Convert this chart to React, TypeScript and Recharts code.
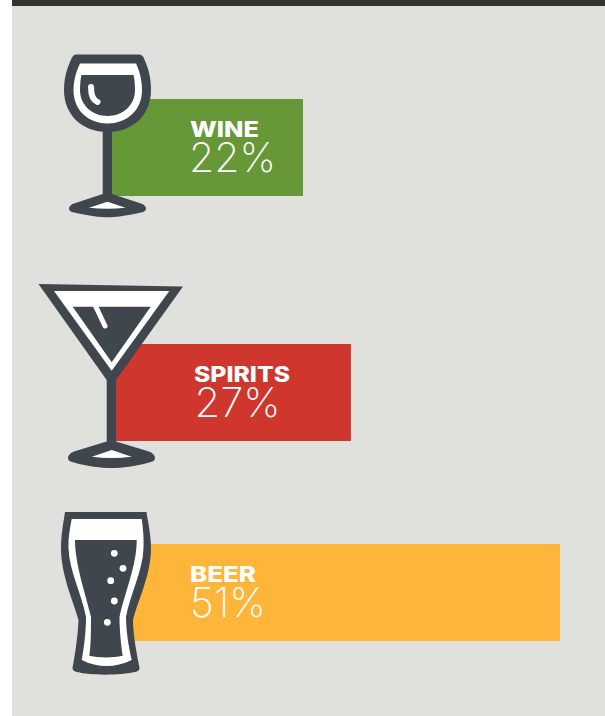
import React from "react";
import { BarChart, Bar, XAxis, YAxis } from "recharts";

const categories = ["WINE", "SPIRITS", "BEER"];
const shares = [22, 27, 51];
const colors = ["#679838", "#cf372e", "#fdb53a"];

const INK = "#40464e";
const CHART_H = 237;
const BAR_H = 97;
const PLOT_W = 484.5;
const BAR_TOPS = [99, 344, 544];
const BAR_ORIGINS = [109.2, 113.1, 110.7];
const NAME_X = [190, 194, 190];
const VALUE_X = [189, 194.5, 190];
const NAME_W = [69, 96, 66];
const VALUE_W = [87, 86, 76];

const WineIcon = () => (
  <g>
    <path fill={INK} d="M102.7,125 L112,125 L112,194 L141,203.5 Q146,205.5 146,208.5 Q146,211.5 141,212.5 C125,216 115,217.3 107.5,217.3 C100,217.3 90,216 74,212.5 Q69,211.5 69,208.5 Q69,205.5 74,203.5 L102.7,194 Z" />
    <path fill={INK} d="M76,54.5 L139,54.5 Q142,54.5 143.5,57.5 C147.5,66 151,76 151,90 C151,115 133,132 107.5,132 C82,132 64,115 64,90 C64,76 68,66 72,57.5 Q73.5,54.5 76,54.5 Z" />
    <path fill="#fff" d="M80,63.5 L136,63.5 C139,70 142,79 142,90 C142,110 127,123.5 107.5,123.5 C88,123.5 73.5,110 73.5,90 C73.5,79 77,70 80,63.5 Z" />
    <path fill={INK} d="M81.5,75 L133.5,75 C134.5,79 135,85 135,90 C135,105 123,116 107.5,116 C92,116 80,105 80,90 C80,85 80.5,79 81.5,75 Z" />
    <path fill="none" stroke="#fff" strokeWidth={6} strokeLinecap="round" d="M91,87 C91,95 92.5,100 97.5,102" />
    <path fill="#fff" d="M89,207.7 L107.5,201.7 L125.5,207.7 Q107.5,210 89,207.7 Z" />
  </g>
);

const SpiritsIcon = () => (
  <g>
    <path fill={INK} d="M38.5,284 L183,286.5 L116,380 L116,441.5 L149,451.5 Q155,454 155,458 Q155,461.5 149,462.5 C135,466.5 122,468 111.5,468 C101,468 88,466.5 74,462.5 Q68,461.5 68,458 Q68,454 74,451.5 L106.7,441.5 L106.7,380 Z" />
    <path fill="#fff" d="M54,291 L169.3,291 L111.7,370.7 Z" />
    <path fill={INK} d="M72.7,306.7 L150.7,306.7 L111.7,362.3 Z" />
    <path fill="none" stroke="#fff" strokeWidth={5} strokeLinecap="round" d="M95,305 L105,326" />
    <path fill="#fff" d="M91.7,456.7 L111.7,450 L131.7,456.7 Q111.7,459.5 91.7,456.7 Z" />
  </g>
);

const BeerIcon = () => (
  <g>
    <path fill={INK} d="M65,512 L146.5,512 C148,522 151,535 151,548 C151,575 138,600 133,620 C133,635 137,655 139.5,668 Q139.5,671 135,672 C120,675.5 90,675.5 77,672 Q72.5,671 72.5,668 C75,655 78,635 78.5,620 C73,600 61,575 61,548 C61,535 63.5,522 65,512 Z" />
    <path fill="#fff" d="M71.7,519 L141.7,519 C143,528 144,538 143.5,548 C143,570 130,595 126,617 C126,632 129,648 131.7,660 C115,668 98,668 81.7,660 C84,648 86,632 86,617 C82,595 69,570 68.5,548 C68,538 70,528 71.7,519 Z" />
    <path fill={INK} d="M75,540 L136.7,540 C137,565 124,595 119.5,617 C119.5,630 121,645 122.7,655.7 C112,658 100,658 89.3,655.7 C91,645 91,630 91,617 C86,595 75,565 75,540 Z" />
    <circle cx={114.3} cy={553.3} r={3.4} fill="#fff" />
    <circle cx={123} cy={568.3} r={3.4} fill="#fff" />
    <circle cx={110.7} cy={580.7} r={3.4} fill="#fff" />
    <circle cx={114.3} cy={601} r={3.4} fill="#fff" />
    <circle cx={107.3} cy={622.3} r={3.4} fill="#fff" />
  </g>
);

const ICONS = [WineIcon, SpiritsIcon, BeerIcon];

function Row({ index }: { index: number }) {
  const data = [{ name: categories[index], share: shares[index] }];
  const Icon = ICONS[index];
  const pageTop = BAR_TOPS[index] - (CHART_H - BAR_H) / 2;
  const renderBar = (p: any) => {
    const dy = p.y - BAR_TOPS[index];
    return (
      <g>
        <rect x={p.x} y={p.y} width={p.width} height={p.height} fill={colors[index]} />
        <g transform={`translate(0, ${dy})`}>
          <Icon />
          <text
            x={NAME_X[index]}
            y={BAR_TOPS[index] + 38}
            fill="#fff"
            fontFamily="Inter, 'Open Sans', sans-serif"
            fontWeight={800}
            fontSize={21.5}
            textLength={NAME_W[index]}
            lengthAdjust="spacingAndGlyphs"
          >
            {categories[index]}
          </text>
          <text
            x={VALUE_X[index]}
            y={BAR_TOPS[index] + 73}
            fill="#fff"
            fontFamily="Inter, 'Open Sans', sans-serif"
            fontWeight={200}
            fontSize={41}
            textLength={VALUE_W[index]}
            lengthAdjust="spacingAndGlyphs"
          >
            {`${shares[index]}%`}
          </text>
        </g>
      </g>
    );
  };
  return (
    <div style={{ position: "absolute", left: 0, top: pageTop }}>
      <BarChart
        width={605}
        height={CHART_H}
        layout="vertical"
        data={data}
        margin={{
          top: 0,
          bottom: 0,
          left: BAR_ORIGINS[index],
          right: 605 - BAR_ORIGINS[index] - PLOT_W,
        }}
      >
        <XAxis type="number" domain={[0, 55]} hide />
        <YAxis type="category" dataKey="name" hide />
        <Bar dataKey="share" barSize={BAR_H} isAnimationActive={false} shape={renderBar} />
      </BarChart>
    </div>
  );
}

export default function App() {
  return (
    <div style={{ position: "absolute", left: 0, top: 0, width: 605, height: 716, background: "#fff", overflow: "hidden" }}>
      <div style={{ position: "absolute", left: 12, top: 0, width: 593, height: 716, background: "#e0e1dc" }} />
      <div style={{ position: "absolute", left: 12, top: 0, width: 593, height: 6, background: "#333333" }} />
      {categories.map((_, i) => (
        <Row key={categories[i]} index={i} />
      ))}
    </div>
  );
}
